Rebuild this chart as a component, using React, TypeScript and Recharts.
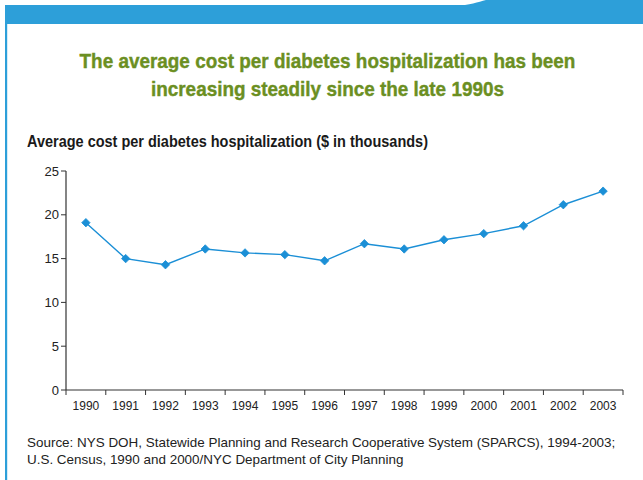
import React from "react";
import { LineChart, Line, XAxis, YAxis } from "recharts";

const years = ["1990","1991","1992","1993","1994","1995","1996","1997","1998","1999","2000","2001","2002","2003"];
const avgCost = [19.1, 15.0, 14.3, 16.1, 15.65, 15.45, 14.75, 16.7, 16.1, 17.15, 17.85, 18.75, 21.15, 22.7];
const yTicks = [0, 5, 10, 15, 20, 25];

const data = years.map((y, i) => ({ pos: i + 0.5, year: y, value: avgCost[i] }));
const xTicks: number[] = [];
for (let i = 0; i <= years.length * 2; i++) xTicks.push(i / 2);

const BLUE = "#1b8fd6";
const AXIS = "#333";

const XTick = (props: any) => {
  const { x, y, payload } = props;
  const v = payload.value as number;
  if (Number.isInteger(v)) {
    return <line x1={x} x2={x} y1={y - 8} y2={y - 3} stroke={AXIS} strokeWidth={1} />;
  }
  return (
    <text x={x} y={y + 12} textAnchor="middle" fontSize={12} fill="#222" fontFamily="Liberation Sans, Arial, sans-serif">
      {years[Math.floor(v)]}
    </text>
  );
};

const Diamond = (props: any) => {
  const { cx, cy } = props;
  if (cx == null || cy == null) return null;
  const r = 4.2;
  return <polygon points={`${cx},${cy - r} ${cx + r},${cy} ${cx},${cy + r} ${cx - r},${cy}`} fill={BLUE} stroke={BLUE} strokeWidth={0.8} />;
};

export default function App() {
  return (
    <div style={{ position: "absolute", left: 0, top: 0, width: 643, height: 480, background: "#fff", overflow: "hidden" }}>
      <svg width={643} height={480} style={{ position: "absolute", left: 0, top: 0 }}>
        <rect x={5} y={5} width={640} height={19} fill="#2d9fd9" />
        <path d="M455,6 C470,5 478,2 486,0 L643,0 L643,6 Z" fill="#2d9fd9" />
        <rect x={5} y={5} width={2.2} height={480} fill="#2d9fd9" />
      </svg>
      <div style={{ position: "absolute", left: 0, top: 47, width: 655, textAlign: "center", fontFamily: "'Liberation Sans', Arial, sans-serif", fontWeight: "bold", fontSize: 21, lineHeight: "28px", color: "#6b8f22", transform: "scaleX(0.9)", transformOrigin: "327px 0", WebkitTextStroke: "0.4px #6b8f22" }}>
        The average cost per diabetes hospitalization has been<br />increasing steadily since the late 1990s
      </div>
      <div style={{ position: "absolute", left: 27, top: 133, fontFamily: "'Liberation Sans', Arial, sans-serif", fontWeight: "bold", fontSize: 16, color: "#1a1a1a", whiteSpace: "nowrap", transform: "scaleX(0.905)", transformOrigin: "0 0" }}>
        Average cost per diabetes hospitalization ($ in thousands)
      </div>
      <div style={{ position: "absolute", left: 27, top: 434, fontFamily: "'Liberation Sans', Arial, sans-serif", fontSize: 13.45, lineHeight: "17px", color: "#222", whiteSpace: "nowrap" }}>
        Source: NYS DOH, Statewide Planning and Research Cooperative System (SPARCS), 1994-2003;<br />U.S. Census, 1990 and 2000/NYC Department of City Planning
      </div>
      <div style={{ position: "absolute", left: 0, top: 0 }}>
        <LineChart width={643} height={480} data={data} margin={{ top: 171, right: 20, bottom: 60, left: 0 }}>
          <XAxis
            dataKey="pos"
            type="number"
            domain={[0, years.length]}
            ticks={xTicks}
            interval={0}
            tickLine={false}
            axisLine={{ stroke: AXIS, strokeWidth: 1.2 }}
            tick={<XTick />}
            height={30}
          />
          <YAxis
            type="number"
            domain={[0, 25]}
            ticks={yTicks}
            interval={0}
            width={66}
            tickSize={5}
            tickLine={{ stroke: AXIS }}
            axisLine={{ stroke: AXIS, strokeWidth: 1.2 }}
            tick={{ fontSize: 13, fill: "#222", fontFamily: "Liberation Sans, Arial, sans-serif" }}
          />
          <Line dataKey="value" stroke={BLUE} strokeWidth={1.4} dot={<Diamond />} isAnimationActive={false} />
        </LineChart>
      </div>
    </div>
  );
}
